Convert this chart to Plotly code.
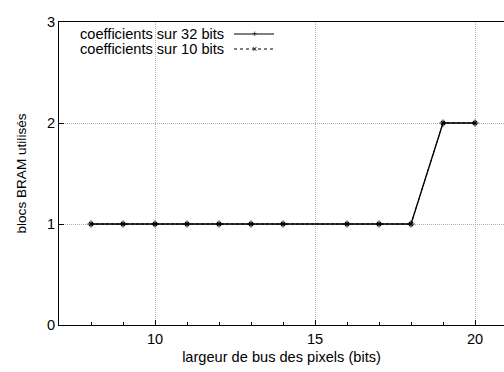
import plotly.graph_objects as go

x_bits = [8, 9, 10, 11, 12, 13, 14, 16, 17, 18, 19, 20]
bram_32 = [1, 1, 1, 1, 1, 1, 1, 1, 1, 1, 2, 2]
bram_10 = [1, 1, 1, 1, 1, 1, 1, 1, 1, 1, 2, 2]
series_names = ["coefficients sur 32 bits", "coefficients sur 10 bits"]
x_ticks = [10, 15, 20]
y_ticks = [0, 1, 2, 3]

W, H = 504, 372
L, R, T, B = 59, 0, 22, 47
pw = W - L - R
ph = H - T - B
FONT = "Liberation Sans, Arial, sans-serif"
FS = 14.6

fig = go.Figure()
fig.add_trace(go.Scatter(x=x_bits, y=bram_32, mode="lines+markers", name=series_names[0],
                         line=dict(color="black", width=1.3),
                         marker=dict(symbol="cross-thin", size=5, line=dict(color="black", width=1)),
                         showlegend=False))
fig.add_trace(go.Scatter(x=x_bits, y=bram_10, mode="lines+markers", name=series_names[1],
                         line=dict(color="black", width=1, dash="3px,2px"),
                         marker=dict(symbol="x-thin", size=4, line=dict(color="black", width=1.2)),
                         showlegend=False))

def px(xp):
    return (xp - L) / pw
def py(yp):
    return 1 - (yp - T) / ph

legend_rows = [(series_names[0], 34, "solid", "+"), (series_names[1], 49, "dash", "×")]
for name, yp, dash, sym in legend_rows:
    fig.add_annotation(xref="paper", yref="paper", x=px(226), y=py(yp), text=name,
                       showarrow=False, xanchor="right", yanchor="middle",
                       font=dict(family=FONT, size=FS, color="black"))
    fig.add_shape(type="line", xref="paper", yref="paper", x0=px(234), x1=px(274),
                  y0=py(yp), y1=py(yp), line=dict(color="black", width=1, dash="dot" if dash == "dash" else "solid"))
    fig.add_annotation(xref="paper", yref="paper", x=px(254), y=py(yp), text=sym,
                       showarrow=False, xanchor="center", yanchor="middle",
                       font=dict(family=FONT, size=9, color="black"))

axis_common = dict(showline=True, linecolor="black", linewidth=1, mirror=True,
                   ticks="inside", ticklen=5, tickcolor="black", automargin=False,
                   showgrid=True, gridcolor="#b0b0b0", griddash="1px,1px", gridwidth=1,
                   zeroline=False, tickfont=dict(family=FONT, size=FS, color="black"))

fig.update_layout(
    width=W, height=H,
    margin=dict(l=L, r=R, t=T, b=B),
    paper_bgcolor="white", plot_bgcolor="white",
    xaxis=dict(range=[7, 7 + pw / 32.0], tickvals=x_ticks,
               minor=dict(dtick=1, tick0=0, ticks="inside", ticklen=3, tickcolor="black", showgrid=False),
               title=dict(text="largeur de bus des pixels (bits)", font=dict(family=FONT, size=FS, color="black"), standoff=6),
               **axis_common),
    yaxis=dict(range=[0, 3], tickvals=y_ticks,
               title=dict(text="blocs BRAM utilisés", font=dict(family=FONT, size=13.6, color="black"), standoff=17),
               **axis_common),
)

fig.write_html("out.html", config={"displayModeBar": False},
               post_script="document.body.style.margin='0';document.body.style.overflow='hidden';")
